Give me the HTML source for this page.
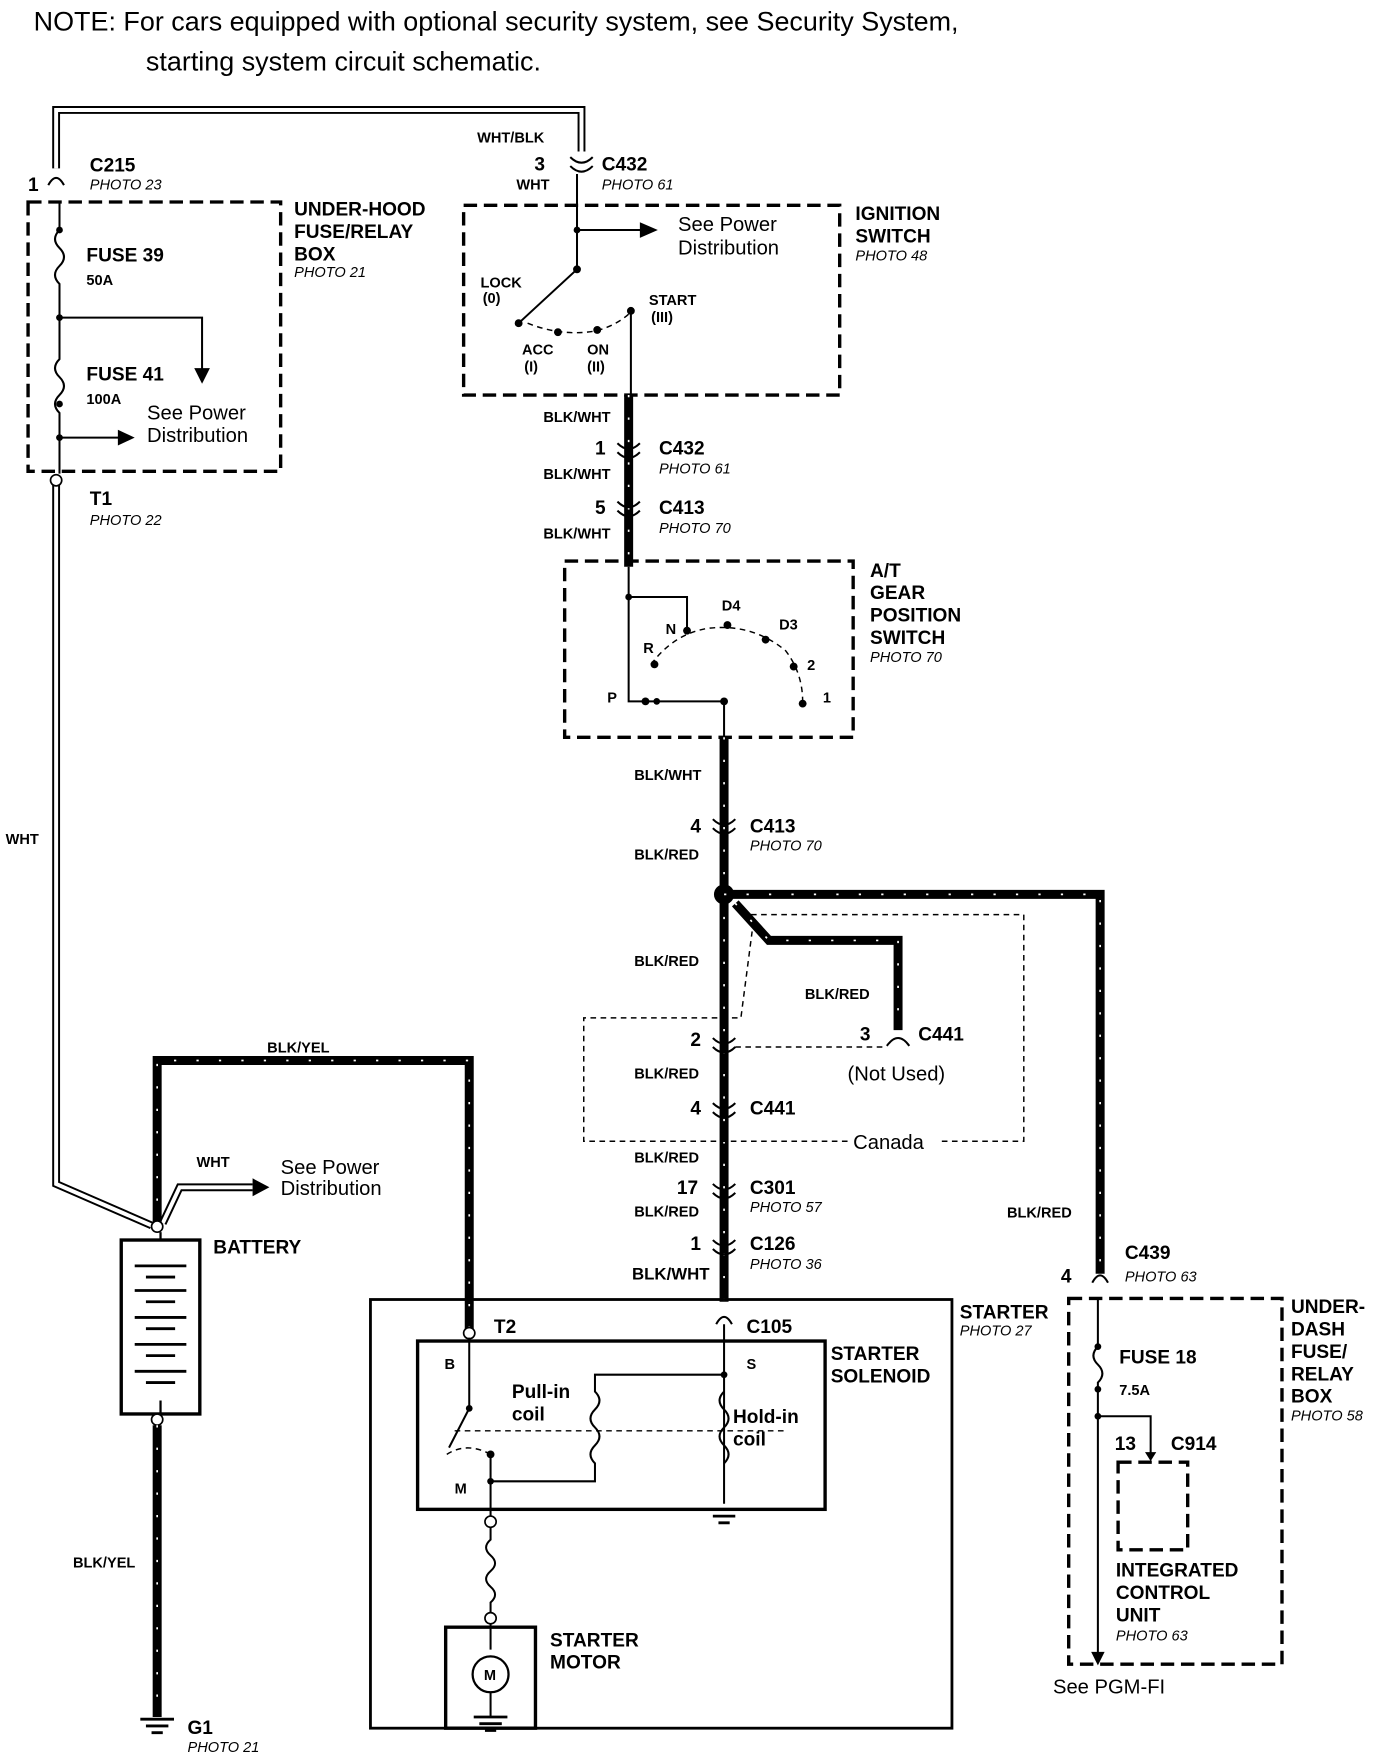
<!DOCTYPE html>
<html><head><meta charset="utf-8"><style>
html,body{margin:0;padding:0;background:#fff}
svg{display:block}
text{font-family:"Liberation Sans",sans-serif;fill:#000}
.b{font-weight:bold;font-size:17px}
.s{font-weight:bold;font-size:13px}
.p{font-style:italic;font-size:13px}
.n{font-size:18px}
.dash{fill:none;stroke:#000;stroke-width:3;stroke-dasharray:12,6}
.dot{fill:none;stroke:#000;stroke-width:1.3;stroke-dasharray:5,4}
.thick{fill:none;stroke:#000;stroke-width:8}
.tk{fill:none;stroke:#fff;stroke-width:1.5;stroke-dasharray:2,18}
.dbl{fill:none;stroke:#000;stroke-width:7}
.dbw{fill:none;stroke:#fff;stroke-width:3.5}
.w{fill:none;stroke:#000;stroke-width:1.8}
</style></head><body>
<svg width="1392" height="1754" viewBox="0 0 1240 1563" preserveAspectRatio="none">
<text x="30" y="27" style="font-size:24px">NOTE: For cars equipped with optional security system, see Security System,</text>
<text x="130" y="63" style="font-size:24px">starting system circuit schematic.</text>

<path class="dbl" d="M50 150 V98 H518 V135"/><path class="dbw" d="M50 150 V98 H518 V135"/>
<path class="dbl" d="M50 432 V1055 L135 1092"/><path class="dbw" d="M50 432 V1055 L135 1092"/>
<path class="dbl" d="M145 1090 L160 1058 H225"/><path class="dbw" d="M145 1090 L160 1058 H225"/>
<path d="M225 1050 L240 1058 L225 1066Z"/>

<text x="25" y="170" class="b">1</text><text x="80" y="153" class="b">C215</text><text x="80" y="169" class="p">PHOTO 23</text>
<path class="w" d="M43 165 Q50 152 57 165"/>
<rect x="25" y="180" width="225" height="240" class="dash"/>
<text x="262" y="192" class="b">UNDER-HOOD</text><text x="262" y="212" class="b">FUSE/RELAY</text><text x="262" y="232" class="b">BOX</text><text x="262" y="247" class="p">PHOTO 21</text>
<path class="w" d="M53 180 V205 q-8 8 0 16 q8 8 0 16 q-8 8 0 16 V320 q-8 8 0 16 q8 8 0 16 q-8 8 0 16 V422"/>
<circle cx="53" cy="205" r="3"/><circle cx="53" cy="283" r="3"/><circle cx="53" cy="360" r="3"/><circle cx="53" cy="390" r="3"/>
<path class="w" d="M53 283 H180 V330"/><path d="M173 328 L180 342 L187 328Z"/>
<path class="w" d="M53 390 H108"/><path d="M105 383 L120 390 L105 397Z"/>
<text x="77" y="233" class="b">FUSE 39</text><text x="77" y="254" class="s">50A</text>
<text x="77" y="339" class="b">FUSE 41</text><text x="77" y="360" class="s">100A</text>
<text x="131" y="374" class="n">See Power</text><text x="131" y="394" class="n">Distribution</text>
<circle cx="50" cy="428" r="5" fill="#fff" stroke="#000" stroke-width="1.5"/>
<text x="80" y="450" class="b">T1</text><text x="80" y="468" class="p">PHOTO 22</text>
<text x="5" y="752" class="s">WHT</text>

<text x="425" y="127" class="s">WHT/BLK</text>
<text x="476" y="152" class="b">3</text><text x="460" y="169" class="s">WHT</text>
<text x="536" y="152" class="b">C432</text><text x="536" y="169" class="p">PHOTO 61</text>
<path class="w" d="M508 140 Q518 150 528 140 M508 148 Q518 158 528 148"/>
<rect x="413" y="183" width="335" height="169" class="dash"/>
<text x="762" y="196" class="b">IGNITION</text><text x="762" y="216" class="b">SWITCH</text><text x="762" y="232" class="p">PHOTO 48</text>
<path class="w" d="M514 155 V240 L462 288"/><path class="w" d="M514 205 H572"/><path d="M570 198 L586 205 L570 212Z"/>
<circle cx="514" cy="205" r="3"/><circle cx="514" cy="240" r="3.5"/><circle cx="462" cy="288" r="3.5"/>
<text x="604" y="206" class="n">See Power</text><text x="604" y="227" class="n">Distribution</text>
<text x="428" y="256" class="s">LOCK</text><text x="430" y="270" class="s">(0)</text>
<text x="578" y="272" class="s">START</text><text x="580" y="287" class="s">(III)</text>
<text x="465" y="316" class="s">ACC</text><text x="467" y="331" class="s">(I)</text>
<text x="523" y="316" class="s">ON</text><text x="523" y="331" class="s">(II)</text>
<path class="dot" d="M470 288 Q500 300 530 295 Q550 290 562 278" stroke-width="2"/>
<circle cx="497" cy="296" r="3.5"/><circle cx="532" cy="294" r="3.5"/><circle cx="562" cy="277" r="3.5"/>
<path class="w" d="M562 277 V352"/>

<path class="thick" d="M560 352 V505"/><path class="tk" d="M560 352 V505"/>
<text x="484" y="376" class="s">BLK/WHT</text>
<text x="530" y="405" class="b">1</text><text x="587" y="405" class="b">C432</text><text x="587" y="422" class="p">PHOTO 61</text>
<text x="484" y="427" class="s">BLK/WHT</text>
<text x="530" y="458" class="b">5</text><text x="587" y="458" class="b">C413</text><text x="587" y="475" class="p">PHOTO 70</text>
<text x="484" y="480" class="s">BLK/WHT</text>
<path class="w" d="M550 395 Q560 405 570 395 M550 403 Q560 413 570 403 M550 447 Q560 457 570 447 M550 455 Q560 465 570 455" stroke-width="2.5"/>

<rect x="503" y="500" width="257" height="157" class="dash"/>
<text x="775" y="514" class="b">A/T</text><text x="775" y="534" class="b">GEAR</text><text x="775" y="554" class="b">POSITION</text><text x="775" y="574" class="b">SWITCH</text><text x="775" y="590" class="p">PHOTO 70</text>
<path class="w" d="M560 505 V625 H585 M560 532 H612 V562"/>
<path class="w" d="M585 625 H645 V657"/>
<circle cx="560" cy="532" r="3"/><circle cx="575" cy="625" r="3.5"/><circle cx="585" cy="625" r="3"/><circle cx="645" cy="625" r="3.5"/>
<path class="dot" d="M580 592 Q600 565 630 560 Q670 555 700 580 Q715 600 715 625" stroke-width="2"/>
<circle cx="583" cy="592" r="3.5"/><circle cx="612" cy="562" r="3.5"/><circle cx="648" cy="557" r="3.5"/><circle cx="682" cy="570" r="3.5"/><circle cx="707" cy="594" r="3.5"/><circle cx="715" cy="627" r="3.5"/>
<text x="541" y="626" class="s">P</text><text x="573" y="582" class="s">R</text><text x="593" y="565" class="s">N</text><text x="643" y="544" class="s">D4</text><text x="694" y="561" class="s">D3</text><text x="719" y="597" class="s">2</text><text x="733" y="626" class="s">1</text>

<path class="thick" d="M645 657 V1160"/><path class="tk" d="M645 657 V1160"/>
<text x="565" y="695" class="s">BLK/WHT</text>
<text x="615" y="742" class="b">4</text><text x="668" y="742" class="b">C413</text><text x="668" y="758" class="p">PHOTO 70</text>
<text x="565" y="766" class="s">BLK/RED</text>
<path class="w" d="M635 730 Q645 740 655 730 M635 738 Q645 748 655 738" stroke-width="2.5"/>
<circle cx="645" cy="797" r="9"/>
<path class="thick" d="M645 797 H980 V1135"/><path class="tk" d="M645 797 H980 V1135"/>
<path class="thick" d="M655 805 L685 838 H800 V918"/><path class="tk" d="M655 805 L685 838 H800 V918"/>
<path class="dot" d="M660 815 H912 V1017 H835 M755 1017 H520 V907 H660 L670 830"/>
<path class="dot" d="M655 933 H790"/>
<text x="565" y="861" class="s">BLK/RED</text><text x="717" y="890" class="s">BLK/RED</text>
<text x="615" y="932" class="b">2</text><text x="766" y="927" class="b">3</text><text x="818" y="927" class="b">C441</text>
<path class="w" d="M790 932 Q800 918 810 932" stroke-width="2.5"/>
<path class="w" d="M635 925 Q645 935 655 925 M635 933 Q645 943 655 933" stroke-width="2.5"/>
<text x="755" y="963" class="n">(Not Used)</text>
<text x="565" y="961" class="s">BLK/RED</text>
<text x="615" y="993" class="b">4</text><text x="668" y="993" class="b">C441</text>
<path class="w" d="M635 983 Q645 993 655 983 M635 991 Q645 1001 655 991" stroke-width="2.5"/>
<text x="760" y="1024" class="n">Canada</text>
<text x="565" y="1036" class="s">BLK/RED</text>
<text x="603" y="1064" class="b">17</text><text x="668" y="1064" class="b">C301</text><text x="668" y="1080" class="p">PHOTO 57</text>
<path class="w" d="M635 1055 Q645 1065 655 1055 M635 1063 Q645 1073 655 1063" stroke-width="2.5"/>
<text x="565" y="1084" class="s">BLK/RED</text>
<text x="615" y="1114" class="b">1</text><text x="668" y="1114" class="b">C126</text><text x="668" y="1131" class="p">PHOTO 36</text>
<path class="w" d="M635 1105 Q645 1115 655 1105 M635 1113 Q645 1123 655 1113" stroke-width="2.5"/>
<text x="563" y="1140" class="b" style="font-size:15px">BLK/WHT</text>
<text x="897" y="1085" class="s">BLK/RED</text>

<path class="thick" d="M140 1090 V945 H418 V1185"/><path class="tk" d="M140 1090 V945 H418 V1185"/>
<text x="238" y="938" class="s">BLK/YEL</text>
<text x="175" y="1040" class="s">WHT</text>
<text x="250" y="1046" class="n">See Power</text><text x="250" y="1065" class="n">Distribution</text>
<circle cx="140" cy="1093" r="5" fill="#fff" stroke="#000" stroke-width="1.5"/>
<rect x="108" y="1105" width="70" height="155" fill="none" stroke="#000" stroke-width="3"/>
<path d="M143 1098 V1105 M143 1248 V1262" stroke="#000" stroke-width="2"/>
<g stroke="#000" stroke-width="2.5">
<line x1="120" y1="1128" x2="166" y2="1128"/><line x1="130" y1="1138" x2="156" y2="1138"/>
<line x1="120" y1="1150" x2="166" y2="1150"/><line x1="130" y1="1160" x2="156" y2="1160"/>
<line x1="120" y1="1174" x2="166" y2="1174"/><line x1="130" y1="1184" x2="156" y2="1184"/>
<line x1="120" y1="1198" x2="166" y2="1198"/><line x1="130" y1="1208" x2="156" y2="1208"/>
<line x1="120" y1="1222" x2="166" y2="1222"/><line x1="130" y1="1232" x2="156" y2="1232"/>
</g>
<text x="190" y="1117" class="b">BATTERY</text>
<circle cx="140" cy="1265" r="5" fill="#fff" stroke="#000" stroke-width="1.5"/>
<path class="thick" d="M140 1270 V1530"/><path class="tk" d="M140 1270 V1530"/>
<text x="65" y="1397" class="s">BLK/YEL</text>
<path d="M125 1532 H155 M130 1538 H150 M135 1544 H145" stroke="#000" stroke-width="2.5"/>
<text x="167" y="1545" class="b">G1</text><text x="167" y="1561" class="p">PHOTO 21</text>

<rect x="330" y="1158" width="518" height="382" fill="none" stroke="#000" stroke-width="2.5"/>
<text x="855" y="1175" class="b">STARTER</text><text x="855" y="1190" class="p">PHOTO 27</text>
<text x="440" y="1188" class="b">T2</text><text x="665" y="1188" class="b">C105</text>
<circle cx="418" cy="1188" r="5" fill="#fff" stroke="#000" stroke-width="1.5"/>
<path class="w" d="M638 1180 Q645 1167 652 1180"/>
<rect x="372" y="1195" width="363" height="150" fill="none" stroke="#000" stroke-width="3"/>
<text x="740" y="1212" class="b">STARTER</text><text x="740" y="1232" class="b">SOLENOID</text>
<text x="396" y="1220" class="s">B</text><text x="665" y="1220" class="s">S</text><text x="405" y="1331" class="s">M</text>
<path class="w" d="M418 1192 V1255 L400 1290"/><circle cx="418" cy="1255" r="3"/>
<path class="dot" d="M398 1296 Q415 1285 435 1295" stroke-width="2"/>
<circle cx="437" cy="1296" r="3.5"/>
<path class="w" d="M645 1180 V1340 M645 1225 H530 V1240 q8 8 0 16 q-8 8 0 16 q8 8 0 16 q-8 8 0 16 V1320 H437 V1360 M437 1296 V1360"/>
<path class="w" d="M645 1240 q-8 8 0 16 q8 8 0 16 q-8 8 0 16 q8 8 0 16"/>
<circle cx="645" cy="1225" r="3"/><circle cx="437" cy="1320" r="3"/>
<path class="dot" d="M405 1275 H700" stroke-width="2"/>
<text x="456" y="1246" class="b">Pull-in</text><text x="456" y="1266" class="b">coil</text>
<text x="653" y="1268" class="b">Hold-in</text><text x="653" y="1288" class="b">coil</text>
<path d="M630 1345 H660 M635 1351 H655 M640 1357 H650" stroke="#000" stroke-width="2.5"/>
<circle cx="437" cy="1356" r="5" fill="#fff" stroke="#000" stroke-width="1.5"/>
<path class="w" d="M437 1361 V1372 q-8 7 0 14 q8 7 0 14 q-8 7 0 14 q8 7 0 14 V1437"/>
<circle cx="437" cy="1442" r="5" fill="#fff" stroke="#000" stroke-width="1.5"/>
<path class="w" d="M437 1447 V1470"/>
<rect x="397" y="1450" width="80" height="90" fill="none" stroke="#000" stroke-width="3"/>
<circle cx="437" cy="1492" r="16" fill="none" stroke="#000" stroke-width="2"/>
<text x="431" y="1497" class="s">M</text>
<path class="w" d="M437 1508 V1530"/>
<path d="M422 1530 H452 M427 1536 H447 M432 1542 H442" stroke="#000" stroke-width="2.5"/>
<text x="490" y="1467" class="b">STARTER</text><text x="490" y="1487" class="b">MOTOR</text>

<text x="945" y="1143" class="b">4</text><text x="1002" y="1122" class="b">C439</text><text x="1002" y="1142" class="p">PHOTO 63</text>
<path class="w" d="M973 1143 Q980 1130 987 1143"/>
<rect x="952" y="1157" width="190" height="326" class="dash"/>
<text x="1150" y="1170" class="b">UNDER-</text><text x="1150" y="1190" class="b">DASH</text><text x="1150" y="1210" class="b">FUSE/</text><text x="1150" y="1230" class="b">RELAY</text><text x="1150" y="1250" class="b">BOX</text><text x="1150" y="1266" class="p">PHOTO 58</text>
<path class="w" d="M978 1157 V1200 q-8 8 0 16 q8 8 0 16 V1475"/><circle cx="978" cy="1200" r="3"/><circle cx="978" cy="1238" r="3"/><circle cx="978" cy="1262" r="3"/>
<path class="w" d="M978 1262 H1025 V1295"/><path d="M1020 1294 L1025 1302 L1030 1294Z"/>
<path d="M972 1472 L978 1484 L984 1472Z"/>
<text x="997" y="1215" class="b">FUSE 18</text><text x="997" y="1243" class="s">7.5A</text>
<text x="993" y="1292" class="b">13</text><text x="1043" y="1292" class="b">C914</text>
<rect x="996" y="1303" width="62" height="78" class="dash"/>
<text x="994" y="1405" class="b">INTEGRATED</text><text x="994" y="1425" class="b">CONTROL</text><text x="994" y="1445" class="b">UNIT</text><text x="994" y="1462" class="p">PHOTO 63</text>
<text x="938" y="1509" class="n">See PGM-FI</text>
</svg>
</body></html>
